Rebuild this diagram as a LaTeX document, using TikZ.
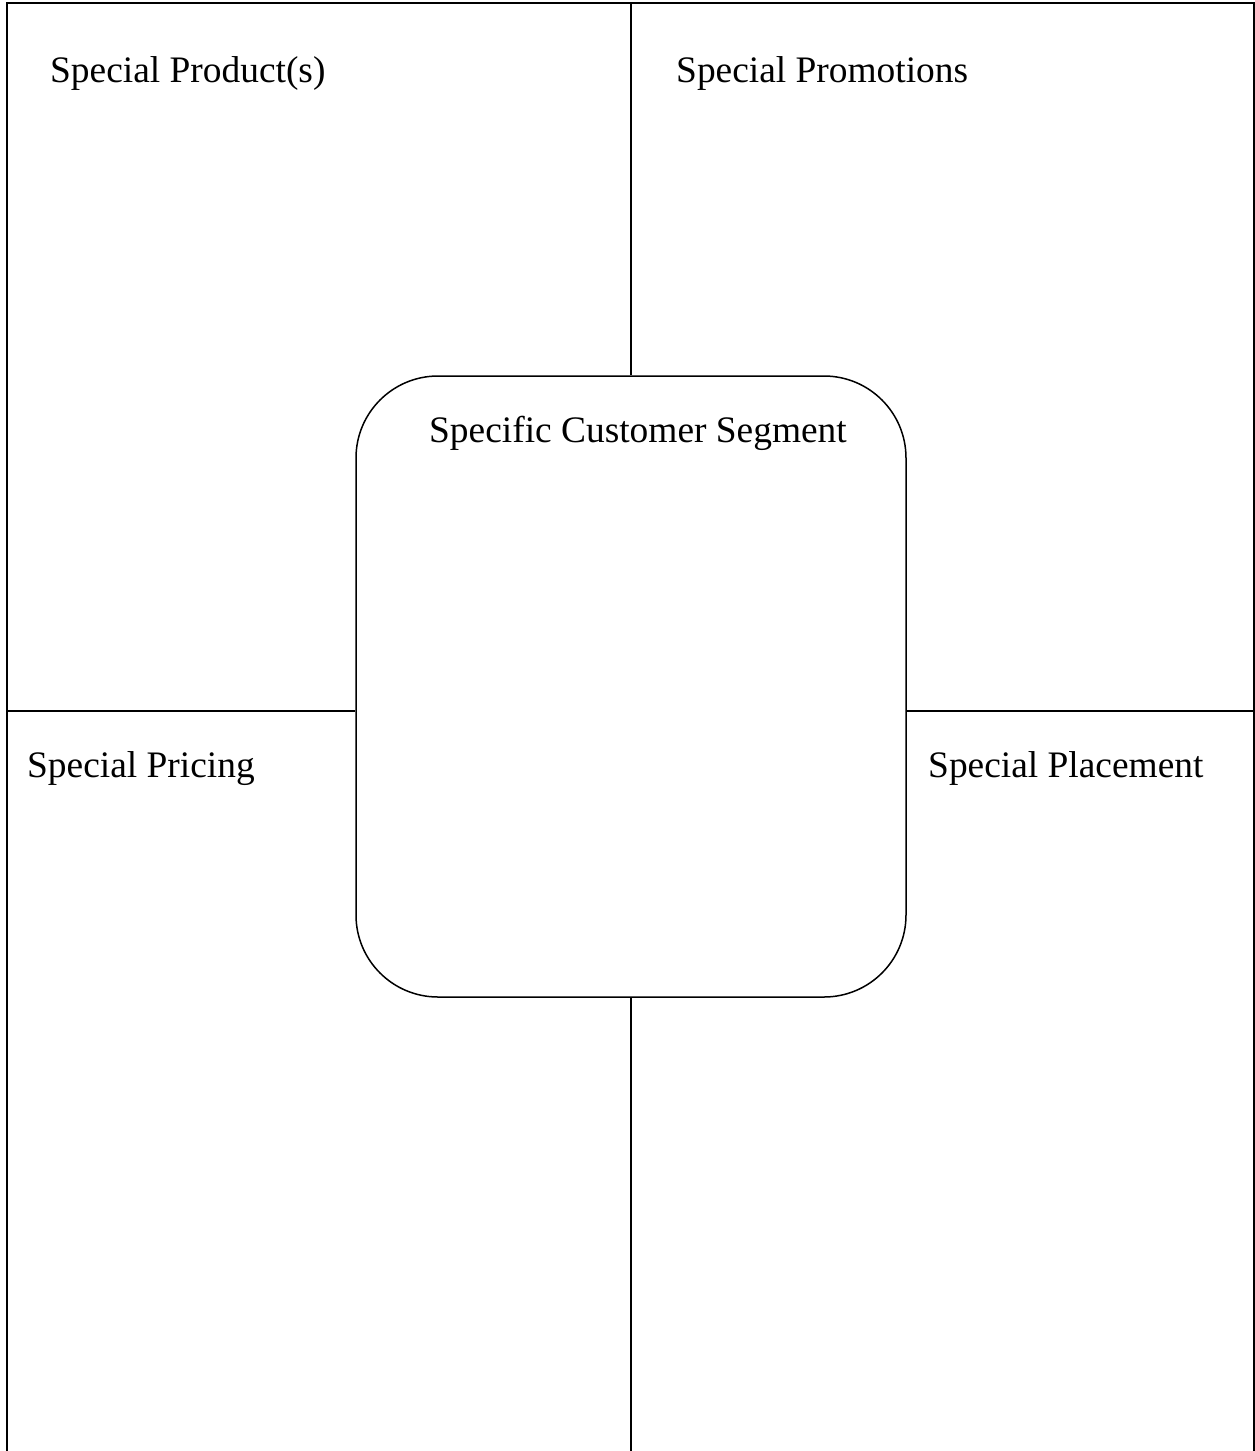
\documentclass[tikz,border=0pt]{standalone}
\usepackage{fontspec}
\setmainfont{Liberation Serif}
\begin{document}
\begin{tikzpicture}[x=1pt,y=-1pt,
  frame/.style={line width=2pt},
  divider/.style={line width=1.5pt},
  lbl/.style={anchor=base west,inner sep=0pt,font=\fontsize{37.4}{44}\selectfont},
  segbox/.style={draw,line width=1.5pt,rounded corners=82pt,minimum width=550pt,minimum height=621pt,inner sep=0pt}]
\useasboundingbox (0,0) rectangle (1255,1451);
% outer frame
\coordinate (tl) at (7,3);
\coordinate (tr) at (1254,3);
\coordinate (bl) at (7,1451);
\coordinate (br) at (1254,1451);
\draw[frame] (bl) -- (tl) -- (tr) -- (br);
% center box
\node[segbox] (seg) at (631,686.5) {};
% divider lines
\coordinate (topmid) at (631,3);
\coordinate (botmid) at (631,1451);
\coordinate (leftmid) at (7,711);
\coordinate (rightmid) at (1254,711);
\draw[divider] (topmid) -- (seg.north);
\draw[divider] (seg.south) -- (botmid);
\draw[divider] (leftmid) -- (seg.west |- leftmid);
\draw[divider] (seg.east |- rightmid) -- (rightmid);
% labels
\node[lbl] (prod) at (50,82) {Special Product(s)};
\node[lbl] (promo) at (676,82) {Special Promotions};
\node[lbl] (cust) at (429,442) {Specific Customer Segment};
\node[lbl] (price) at (27,777) {Special Pricing};
\node[lbl] (place) at (928,777) {Special Placement};
\end{tikzpicture}
\end{document}
